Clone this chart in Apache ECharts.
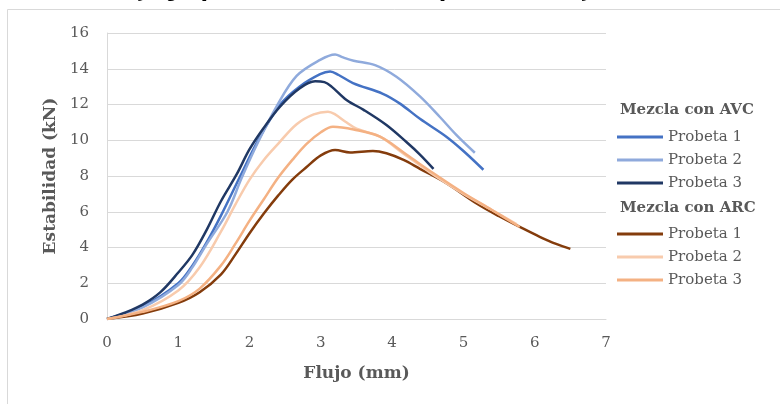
<!DOCTYPE html>
<html><head><meta charset="utf-8">
<script src="https://cdn.jsdelivr.net/npm/echarts@6/dist/echarts.min.js"></script>
<style>html,body{margin:0;padding:0;background:#fff;}#c{width:780px;height:404px;}</style>
</head><body><div id="c"></div>
<script>
// Tick values
const xTicks = [0, 1, 2, 3, 4, 5, 6, 7];
const yTicks = [0, 2, 4, 6, 8, 10, 12, 14, 16];

// Mezcla con AVC
const avc1X = [0, 0.5, 1.0, 1.2, 1.4, 1.6, 1.87, 2.12, 2.43, 2.7, 2.99, 3.13, 3.25, 3.45, 3.87, 4.11, 4.39, 4.76, 5.0, 5.28];
const avc1Y = [0, 0.7, 2.0, 3.0, 4.3, 5.8, 8.0, 10.0, 12.0, 13.0, 13.7, 13.85, 13.65, 13.2, 12.6, 12.05, 11.2, 10.2, 9.4, 8.35];
const avc2X = [0, 0.5, 1.0, 1.2, 1.4, 1.69, 1.89, 2.12, 2.38, 2.66, 2.99, 3.2, 3.3, 3.46, 3.76, 4.06, 4.39, 4.67, 4.9, 5.16];
const avc2Y = [0, 0.65, 1.9, 2.9, 4.2, 6.0, 7.9, 9.9, 11.9, 13.6, 14.5, 14.8, 14.65, 14.45, 14.2, 13.55, 12.45, 11.3, 10.3, 9.3];
const avc3X = [0, 0.25, 0.5, 0.75, 1.0, 1.2, 1.4, 1.6, 1.82, 2.0, 2.2, 2.43, 2.7, 2.92, 3.05, 3.15, 3.36, 3.6, 3.92, 4.2, 4.39, 4.58];
const avc3Y = [0, 0.35, 0.8, 1.5, 2.6, 3.6, 5.0, 6.6, 8.1, 9.5, 10.7, 11.9, 12.9, 13.3, 13.25, 13.0, 12.25, 11.7, 10.85, 9.9, 9.2, 8.4];

// Mezcla con ARC
const arc1X = [0, 0.5, 1.0, 1.3, 1.6, 1.8, 2.0, 2.2, 2.4, 2.6, 2.8, 3.0, 3.2, 3.41, 3.73, 3.92, 4.16, 4.39, 4.76, 5.19, 5.5, 5.84, 6.07, 6.3, 6.5];
const arc1Y = [0, 0.3, 0.9, 1.5, 2.5, 3.6, 4.8, 5.9, 6.9, 7.8, 8.5, 9.15, 9.45, 9.32, 9.4, 9.27, 8.9, 8.4, 7.6, 6.45, 5.75, 5.05, 4.6, 4.2, 3.92];
const arc2X = [0, 0.5, 1.0, 1.3, 1.6, 1.8, 2.0, 2.2, 2.4, 2.66, 2.9, 3.1, 3.2, 3.34, 3.5, 3.83, 4.16, 4.53, 5.0, 5.4, 5.75];
const arc2Y = [0, 0.5, 1.6, 2.9, 4.9, 6.4, 7.8, 8.9, 9.8, 10.9, 11.45, 11.6, 11.45, 11.05, 10.65, 10.2, 9.25, 8.2, 7.0, 6.1, 5.3];
const arc3X = [0, 0.5, 1.0, 1.3, 1.6, 1.8, 2.0, 2.2, 2.4, 2.6, 2.8, 3.0, 3.17, 3.46, 3.83, 4.2, 4.58, 5.0, 5.4, 5.79];
const arc3Y = [0, 0.4, 1.0, 1.7, 3.0, 4.2, 5.5, 6.7, 7.9, 8.9, 9.8, 10.45, 10.75, 10.6, 10.2, 9.2, 8.15, 7.05, 6.1, 5.15];

const seriesNames = ['AVC|Probeta 1', 'AVC|Probeta 2', 'AVC|Probeta 3', 'ARC|Probeta 1', 'ARC|Probeta 2', 'ARC|Probeta 3'];
const groupTitles = ['Mezcla con AVC', 'Mezcla con ARC'];
const xName = 'Flujo (mm)';
const yName = 'Estabilidad (kN)';
const topText = 'Estabilidad vs flujo para el contenido óptimo de asfalto de las mezclas tipo AVC y ARC';

const colors = ['#4472C4', '#8FAADC', '#203864', '#843C0C', '#F8CBAD', '#F4B183'];
const xs = [avc1X, avc2X, avc3X, arc1X, arc2X, arc3X];
const ys = [avc1Y, avc2Y, avc3Y, arc1Y, arc2Y, arc3Y];

const FONT = '"DejaVu Serif", "Liberation Serif", serif';
const TXT = '#595959';

const series = seriesNames.map((n, k) => ({
  name: n,
  type: 'line',
  smooth: 0.35,
  symbol: 'none',
  showSymbol: false,
  color: colors[k],
  lineStyle: { color: colors[k], width: 2.5 },
  data: xs[k].map((x, i) => [x, ys[k][i]])
}));

const legendCommon = {
  orient: 'vertical',
  left: 617,
  padding: 0,
  itemWidth: 46,
  itemHeight: 3,
  itemGap: 5,
  icon: 'rect',
  formatter: n => n.split('|')[1],
  textStyle: { fontFamily: FONT, fontSize: 15, color: TXT, lineHeight: 18 },
  selectedMode: false
};

const chart = echarts.init(document.getElementById('c'), null, { renderer: 'canvas' });
chart.setOption({
  animation: false,
  backgroundColor: '#fff',
  grid: { left: 107, top: 33, width: 499, height: 286, containLabel: false },
  xAxis: {
    type: 'value', min: xTicks[0], max: xTicks[xTicks.length - 1], interval: 1,
    name: xName, nameLocation: 'middle', nameGap: 46,
    nameTextStyle: { fontFamily: FONT, fontSize: 17, fontWeight: 'bold', color: TXT },
    axisLine: { show: true, lineStyle: { color: '#d9d9d9', width: 1 } },
    axisTick: { show: false },
    splitLine: { show: false },
    axisLabel: { fontFamily: FONT, fontSize: 15, color: TXT, margin: 17 }
  },
  yAxis: {
    type: 'value', min: yTicks[0], max: yTicks[yTicks.length - 1], interval: 2,
    name: yName, nameLocation: 'middle', nameGap: 45, nameRotate: 90,
    nameTextStyle: { fontFamily: FONT, fontSize: 17, fontWeight: 'bold', color: TXT },
    axisLine: { show: true, lineStyle: { color: '#d9d9d9', width: 1 } },
    axisTick: { show: false },
    splitLine: { show: true, lineStyle: { color: '#d9d9d9', width: 1 } },
    axisLabel: { fontFamily: FONT, fontSize: 15, color: TXT, margin: 18 }
  },
  legend: [
    Object.assign({}, legendCommon, { top: 128, data: seriesNames.slice(0, 3).map(n => ({ name: n, itemStyle: { color: colors[seriesNames.indexOf(n)] } })) }),
    Object.assign({}, legendCommon, { top: 225, data: seriesNames.slice(3).map(n => ({ name: n, itemStyle: { color: colors[seriesNames.indexOf(n)] } })) })
  ],
  graphic: [
    { type: 'rect', silent: true, shape: { x: 7.5, y: 9.5, width: 900, height: 500 }, style: { fill: 'none', stroke: '#d9d9d9', lineWidth: 1 } },
    { type: 'text', silent: true, z: 10, style: { x: -40, y: 1, text: topText, font: 'italic bold 22px "DejaVu Serif"', fill: '#000', textVerticalAlign: 'bottom' } },
    { type: 'text', silent: true, style: { x: 620, y: 110, text: groupTitles[0], font: 'bold 15px "DejaVu Serif"', fill: TXT, textVerticalAlign: 'middle' } },
    { type: 'text', silent: true, style: { x: 620, y: 208, text: groupTitles[1], font: 'bold 15px "DejaVu Serif"', fill: TXT, textVerticalAlign: 'middle' } }
  ],
  series: series
});
</script></body></html>
